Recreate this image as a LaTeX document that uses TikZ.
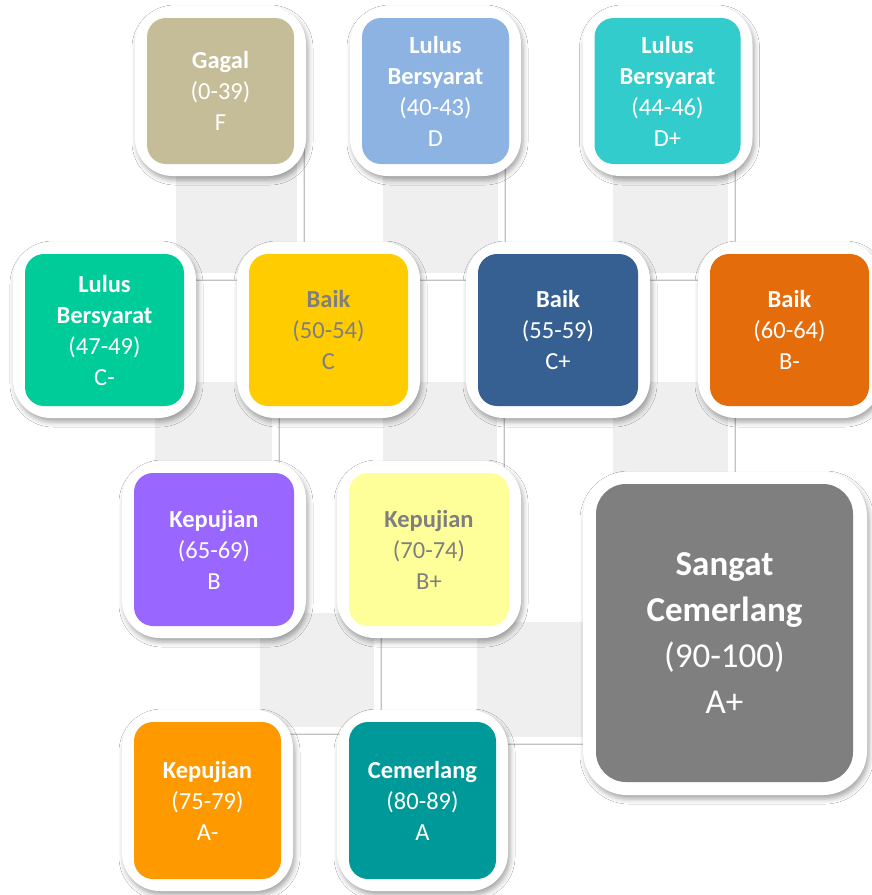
\documentclass[tikz,border=0pt]{standalone}
\usepackage{fontspec}
\setmainfont{Carlito}
\usetikzlibrary{shadows.blur}
\definecolor{tilegray}{HTML}{EFEFEF}
\definecolor{cF}{HTML}{C4BD97}
\definecolor{cD}{HTML}{8DB3E2}
\definecolor{cDp}{HTML}{33CCCC}
\definecolor{cCm}{HTML}{00CC99}
\definecolor{cC}{HTML}{FFCC00}
\definecolor{cCp}{HTML}{376092}
\definecolor{cBm}{HTML}{E46C0A}
\definecolor{cB}{HTML}{9966FF}
\definecolor{cBp}{HTML}{FFFF99}
\definecolor{cAm}{HTML}{FF9900}
\definecolor{cA}{HTML}{009999}
\definecolor{cAp}{HTML}{7F7F7F}
\definecolor{darktext}{HTML}{7F7F7F}
\tikzset{
  tile/.style={fill=tilegray, draw=white, line width=6pt,
    blur shadow={shadow xshift=2pt, shadow yshift=-2pt, shadow blur radius=2.5pt, shadow opacity=45}},
  frame/.style={rectangle, fill=white, rounded corners=38pt, inner sep=0pt,
    blur shadow={shadow xshift=2pt, shadow yshift=-4pt, shadow blur radius=5pt, shadow opacity=35}},
  inbox/.style={rectangle, rounded corners=19pt, inner sep=0pt, align=center,
    font=\fontsize{24.5}{31}\selectfont},
  bigbox/.style={rectangle, rounded corners=30pt, inner sep=0pt, align=center,
    font=\fontsize{35}{46}\selectfont}
}
\newcommand\gradebox[8]{%
  \node[frame, minimum width=#4+24pt, minimum height=#5+24pt] (#1F) at (#2,#3) {};
  \node[inbox, fill=#6, text=#7, minimum width=#4, minimum height=#5] (#1) at (#2,#3) {#8};
}
\begin{document}
\begin{tikzpicture}[x=1pt,y=-1pt]
\useasboundingbox (0,0) rectangle (872,895);
\fill[white] (0,0) rectangle (872,895);
% background tiles
\path[tile] (173,110) rectangle (300,276);
\path[tile] (380,110) rectangle (501,276);
\path[tile] (610,110) rectangle (731,276);
\path[tile] (152,379) rectangle (275,520);
\path[tile] (380,379) rectangle (500,520);
\path[tile] (610,379) rectangle (731,520);
\path[tile] (257,610) rectangle (377,730);
\path[tile] (474,619) rectangle (600,740);
% top row
\gradebox{gF}{220.5}{91}{147pt}{146pt}{cF}{white}{\textbf{Gagal}\\(0-39)\\F}
\gradebox{gD}{435.5}{91}{147pt}{146pt}{cD}{white}{\textbf{Lulus}\\\textbf{Bersyarat}\\(40-43)\\D}
\gradebox{gDp}{667.5}{91}{146pt}{146pt}{cDp}{white}{\textbf{Lulus}\\\textbf{Bersyarat}\\(44-46)\\D+}
% second row
\gradebox{gCm}{104.5}{330}{159pt}{152pt}{cCm}{white}{\textbf{Lulus}\\\textbf{Bersyarat}\\(47-49)\\C-}
\gradebox{gC}{328.5}{330}{159pt}{152pt}{cC}{darktext}{\textbf{Baik}\\(50-54)\\C}
\gradebox{gCp}{558}{330}{160pt}{152pt}{cCp}{white}{\textbf{Baik}\\(55-59)\\C+}
\gradebox{gBm}{789.5}{330}{159pt}{152pt}{cBm}{white}{\textbf{Baik}\\(60-64)\\B-}
% third row
\gradebox{gB}{214}{549.5}{160pt}{153pt}{cB}{white}{\textbf{Kepujian}\\(65-69)\\B}
\gradebox{gBp}{429}{549.5}{160pt}{153pt}{cBp}{darktext}{\textbf{Kepujian}\\(70-74)\\B+}
% bottom row
\gradebox{gAm}{207.5}{800.5}{147pt}{157pt}{cAm}{white}{\textbf{Kepujian}\\(75-79)\\A-}
\gradebox{gA}{422.5}{800.5}{147pt}{157pt}{cA}{white}{\textbf{Cemerlang}\\(80-89)\\A}
% big box
\node[frame, rounded corners=44pt, minimum width=284pt, minimum height=323pt] (gApF) at (725,633.5) {};
\node[bigbox, fill=cAp, text=white, minimum width=257pt, minimum height=298pt] (gAp) at (724.5,633) {\textbf{Sangat}\\\textbf{Cemerlang}\\(90-100)\\A+};
\end{tikzpicture}
\end{document}
